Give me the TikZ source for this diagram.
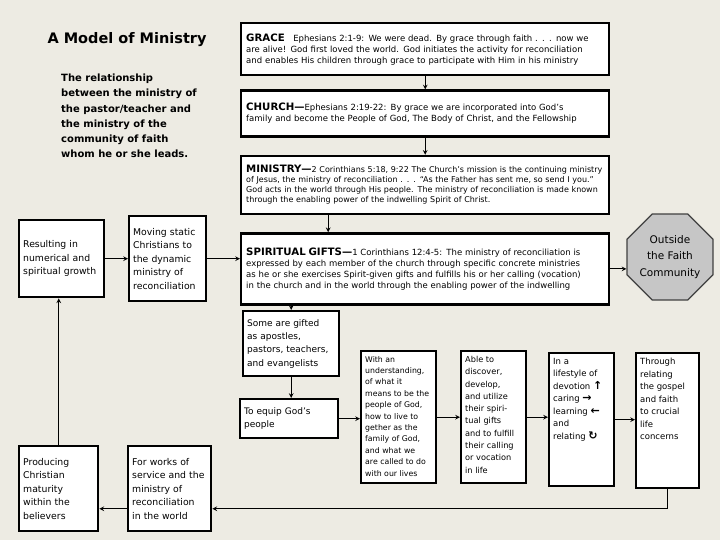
\documentclass[tikz,border=0pt]{standalone}
\usepackage{fontspec}
\setmainfont{DejaVu Sans}
\usetikzlibrary{shapes,arrows,positioning,calc}

\definecolor{paper}{HTML}{EDEBE3}
\definecolor{stopgray}{HTML}{C6C6C6}

\newcommand{\boxhead}[1]{{\bfseries\fontsize{10.2}{12}\selectfont #1}}
\newcommand{\toplines}[3]{\parbox[t][#1][t]{#2}{\raggedright #3}}
\newcommand{\icon}[1]{{\bfseries\fontsize{11}{12}\selectfont #1}}

\begin{document}
\begin{tikzpicture}[
    x=1pt, y=-1pt,
    bigbox/.style={draw, line width=2.4pt, fill=white, minimum width=368pt, text width=358pt, inner xsep=5pt, align=left, font=\fontsize{8.5}{11}\selectfont},
    box/.style={draw, line width=2.4pt, fill=white, anchor=north west, inner sep=4pt, align=left},
    arrow/.style={->, line width=1.1pt, >=stealth}
]

\fill[paper] (0,0) rectangle (720,540);
\useasboundingbox (0,0) rectangle (720,540);

% Title
\node[anchor=west, font=\bfseries\fontsize{14.5}{17}\selectfont] (title) at (44,40) {A Model of Ministry};
\node[anchor=north west, inner sep=0pt, align=left, font=\bfseries\fontsize{10}{15.2}\selectfont] (note) at (61,74) {The relationship\\ between the ministry of\\ the pastor/teacher and\\ the ministry of the\\ community of faith\\ whom he or she leads.};

% Main column
\node[bigbox, anchor=north west, minimum height=52pt] (grace) at (240,22) {\boxhead{GRACE}\quad Ephesians 2:1-9: We were dead. By grace through faith . . . now we\\ are alive! God first loved the world. God initiates the activity for reconciliation\\ and enables His children through grace to participate with Him in his ministry};

\node[bigbox, minimum height=46pt, below=13pt of grace] (church) {\boxhead{CHURCH—}Ephesians 2:19-22: By grace we are incorporated into God's\\ family and become the People of God, The Body of Christ, and the Fellowship};

\node[bigbox, minimum height=58pt, below=17pt of church, font=\fontsize{8}{10}\selectfont] (ministry) {\boxhead{MINISTRY—}2 Corinthians 5:18, 9:22 The Church's mission is the continuing ministry\\ of Jesus, the ministry of reconciliation . . . ``As the Father has sent me, so send I you.''\\ God acts in the world through His people. The ministry of reconciliation is made known\\ through the enabling power of the indwelling Spirit of Christ.};

\node[bigbox, minimum height=71pt, below=17pt of ministry] (gifts) {\boxhead{SPIRITUAL GIFTS—}1 Corinthians 12:4-5: The ministry of reconciliation is\\ expressed by each member of the church through specific concrete ministries\\ as he or she exercises Spirit-given gifts and fulfills his or her calling (vocation)\\ in the church and in the world through the enabling power of the indwelling};

\node[draw=black!75, line width=1.2pt, fill=stopgray, regular polygon, regular polygon sides=8, minimum size=92pt, inner sep=0pt, align=center, font=\fontsize{10.5}{16.5}\selectfont] (outside) at (670,257) {Outside\\ the Faith\\ Community};

% Left boxes
\node[box, text width=77pt, minimum height=77pt, font=\fontsize{9.3}{13.5}\selectfont] (growth) at (18,219) {Resulting in\\ numerical and\\ spiritual growth};
\node[box, text width=69pt, minimum height=85pt, font=\fontsize{9.3}{13.5}\selectfont] (moving) at (128,215) {Moving static\\ Christians to\\ the dynamic\\ ministry of\\ reconciliation};
\node[box, text width=71pt, minimum height=85pt, font=\fontsize{9.3}{13.5}\selectfont] (maturity) at (18,445) {Producing\\ Christian\\ maturity\\ within the\\ believers};
\node[box, text width=75pt, minimum height=85pt, font=\fontsize{9.3}{13.5}\selectfont] (works) at (127,445) {For works of\\ service and the\\ ministry of\\ reconciliation\\ in the world};

% Middle boxes
\node[box, text width=88pt, minimum height=65pt, font=\fontsize{9}{13.3}\selectfont] (gifted) at (242,310) {Some are gifted\\ as apostles,\\ pastors, teachers,\\ and evangelists};
\node[box, text width=90pt, minimum height=39pt, font=\fontsize{9}{13.3}\selectfont] (equip) at (239,398) {To equip God's\\ people};

\node[box, minimum width=75pt, minimum height=132pt, font=\fontsize{7.8}{11.4}\selectfont] (know) at (360,350) {\toplines{122pt}{67pt}{With an\\ understanding,\\ of what it\\ means to be the\\ people of God,\\ how to live to\\ gether as the\\ family of God,\\ and what we\\ are called to do\\ with our lives}};
\node[box, minimum width=65pt, minimum height=132pt, font=\fontsize{8.2}{12.3}\selectfont] (use) at (460,350) {\toplines{122pt}{57pt}{Able to\\ discover,\\ develop,\\ and utilize\\ their spiri-\\ tual gifts\\ and to fulfill\\ their calling\\ or vocation\\ in life}};
\node[box, minimum width=65pt, minimum height=133pt, font=\fontsize{8.5}{12.5}\selectfont] (life) at (548,352) {\toplines{123pt}{57pt}{In a\\ lifestyle of\\ devotion\ \icon{↑}\\ caring\ \icon{→}\\ learning\ \icon{←}\\ and\\ relating\ \icon{↻}}};
\node[box, minimum width=63pt, minimum height=135pt, font=\fontsize{8.5}{12.5}\selectfont] (relate) at (635,352) {\toplines{125pt}{55pt}{Through\\ relating\\ the gospel\\ and faith\\ to crucial\\ life\\ concerns}};

% Arrows
\draw[arrow] (grace) -- (church);
\draw[arrow] (church) -- (ministry);
\draw[arrow] ([xshift=-97pt]ministry.south) -- ([xshift=-97pt]gifts.north);
\draw[arrow] (gifts.east) -- (gifts.east -| outside.west);
\draw[arrow] (growth) -- (moving);
\draw[arrow] (moving.east) -- (moving.east -| gifts.west);
\draw[arrow] (gifted.north |- gifts.south) -- (gifted.north);
\draw[arrow] (gifted.south) -- (gifted.south |- equip.north);
\draw[arrow] (equip.east) -- (equip.east -| know.west);
\draw[arrow] (know) -- (use);
\draw[arrow] (use.east) -- (use.east -| life.west);
\draw[arrow] (life.east) -- (life.east -| relate.west);
\draw[arrow] (relate.south) |- ([yshift=-20pt]works.east);
\draw[arrow] ([yshift=-20pt]works.west) -- ([yshift=-20pt]maturity.east);
\draw[arrow] (maturity.north) -- (maturity.north |- growth.south);

\end{tikzpicture}
\end{document}
